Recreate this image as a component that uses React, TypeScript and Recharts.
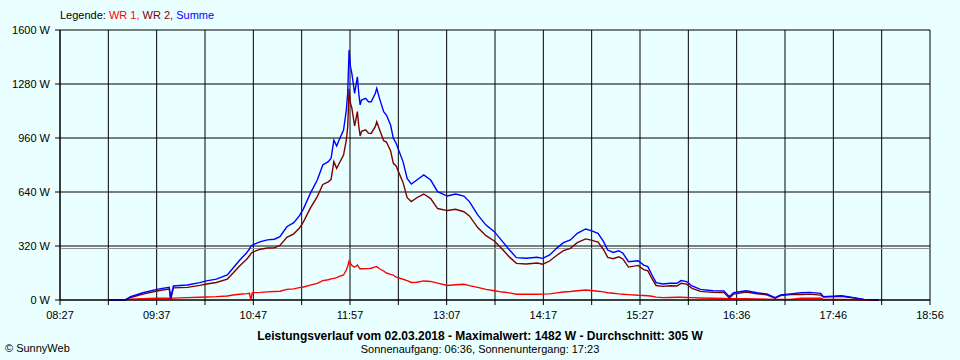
import { LineChart, Line, XAxis, YAxis, CartesianGrid, ReferenceLine } from 'recharts'

// minutes since midnight
const times = [
  542, 554, 558, 567, 577, 581, 586, 587, 589, 599, 608, 613, 620, 628, 632, 637, 642, 644, 645, 646,
  652, 657, 662, 666, 671, 676, 680, 683, 688, 693, 697, 701, 703, 705, 707, 709, 712, 714, 715, 716,
  717, 718, 720, 721, 722, 723, 724, 725, 728, 730, 732, 735, 736, 738, 741, 743, 746, 748, 750, 755,
  758, 761, 765, 770, 775, 780, 787, 793, 799, 803, 809, 815, 821, 827, 832, 837, 844, 852, 856, 861,
  866, 871, 876, 881, 887, 891, 896, 900, 903, 907, 911, 914, 918, 925, 929, 932, 935, 938, 943, 948,
  953, 956, 960, 964, 970, 979, 987, 991, 994, 1003, 1011, 1018, 1024, 1028, 1035, 1043, 1049, 1057, 1059, 1069,
  1072, 1081, 1088, 1099,
]

const wr1 = [
  0, 0, 5, 8, 10, 10, 10, 10, 11, 14, 16, 18, 20, 24, 30, 34, 38, 40, 0, 43,
  45, 48, 50, 52, 63, 66, 73, 77, 88, 98, 115, 120, 125, 128, 133, 140, 148, 178, 200, 231,
  217, 205, 194, 200, 207, 195, 184, 185, 186, 186, 188, 196, 198, 185, 172, 160, 152, 148, 135, 123,
  115, 104, 105, 113, 110, 100, 86, 90, 93, 85, 75, 63, 55, 47, 42, 34, 34, 34, 35, 36,
  42, 47, 50, 55, 59, 56, 52, 48, 43, 40, 36, 34, 32, 28, 27, 25, 22, 17, 14, 15,
  16, 16, 15, 14, 12, 10, 9, 8, 8, 8, 6, 5, 4, 4, 4, 10, 10, 10, 3, 3,
  3, 2, 0, 0,
]

const wr2 = [
  0, 0, 15, 35, 53, 59, 65, 2, 72, 75, 87, 95, 104, 124, 158, 203, 242, 262, 275, 283,
  301, 308, 310, 323, 371, 392, 425, 463, 544, 613, 685, 700, 715, 820, 780, 812, 859, 948, 1025, 1251,
  1166, 1138, 1031, 1074, 1116, 1030, 972, 1000, 1009, 989, 987, 1029, 1056, 1010, 944, 936, 885, 810, 794, 697,
  606, 583, 606, 628, 601, 542, 530, 538, 523, 498, 429, 381, 350, 299, 254, 217, 213, 219, 212, 231,
  264, 293, 306, 340, 362, 355, 343, 298, 253, 245, 256, 243, 195, 205, 180, 173, 126, 86, 81, 84,
  83, 99, 94, 69, 51, 45, 44, 12, 35, 47, 37, 31, 10, 26, 32, 33, 35, 29, 17, 21,
  22, 12, 4, 0,
]

const summe = [
  0, 0, 20, 43, 63, 69, 75, 12, 83, 89, 103, 113, 124, 148, 188, 237, 280, 303, 318, 326,
  346, 356, 360, 375, 434, 458, 498, 540, 632, 711, 800, 820, 840, 948, 913, 952, 1007, 1126, 1225, 1482,
  1383, 1343, 1225, 1274, 1323, 1225, 1156, 1185, 1195, 1175, 1175, 1225, 1254, 1195, 1116, 1096, 1037, 958, 929, 820,
  721, 687, 711, 741, 711, 642, 616, 628, 616, 583, 504, 444, 405, 346, 296, 251, 247, 253, 247, 267,
  306, 340, 356, 395, 421, 411, 395, 346, 296, 282, 292, 277, 227, 233, 207, 198, 148, 103, 95, 99,
  99, 115, 109, 83, 63, 55, 53, 20, 43, 55, 43, 36, 14, 30, 36, 43, 45, 39, 20, 24,
  25, 14, 4, 0,
]

const tickLabels = ['08:27', '09:37', '10:47', '11:57', '13:07', '14:17', '15:27', '16:36', '17:46', '18:56']
const yTicks = [0, 320, 640, 960, 1280, 1600]
const average = 305

const START = 507
const END = 1136
const xTicks = Array.from({ length: 19 }, (_, i) => START + (i * (END - START)) / 18)

const data = times.map((t, i) => ({ t, wr1: wr1[i], wr2: wr2[i], summe: summe[i] }))

const font = '"Liberation Sans", Arial, sans-serif'
const tickStyle = { fontSize: 11, fill: '#000', fontFamily: font }

export default function App() {
  return (
    <div style={{ position: 'absolute', left: 0, top: 0, width: 960, height: 360, background: '#eaffff', fontFamily: font }}>
      <div style={{ position: 'absolute', left: 60, top: 9, fontSize: 11, lineHeight: '13px', whiteSpace: 'nowrap' }}>
        <span style={{ color: '#000' }}>Legende: </span>
        <span style={{ color: '#ff0000' }}>WR 1, </span>
        <span style={{ color: '#800000' }}>WR 2, </span>
        <span style={{ color: '#0000ff' }}>Summe</span>
      </div>
      <LineChart width={960} height={360} data={data} margin={{ top: 30, right: 30, bottom: 0, left: 0 }}>
        <CartesianGrid stroke="#000" strokeWidth={1} />
        <XAxis
          dataKey="t"
          type="number"
          domain={[START, END]}
          ticks={xTicks}
          interval={0}
          tickFormatter={(_v: number, i: number) => (i % 2 === 0 ? tickLabels[i / 2] : '')}
          height={60}
          tickSize={5}
          tickMargin={6}
          stroke="#000"
          tick={tickStyle}
          allowDataOverflow
        />
        <YAxis
          type="number"
          domain={[0, 1600]}
          ticks={yTicks}
          interval={0}
          width={60}
          tickSize={5}
          tickMargin={5}
          stroke="#000"
          tick={tickStyle}
          tickFormatter={(v: number) => `${v} W`}
        />
        <ReferenceLine y={average} stroke="#909090" strokeWidth={1} ifOverflow="extendDomain" />
        <Line dataKey="wr1" stroke="#ff0000" strokeWidth={1.4} dot={false} isAnimationActive={false} type="linear" />
        <Line dataKey="wr2" stroke="#800000" strokeWidth={1.4} dot={false} isAnimationActive={false} type="linear" />
        <Line dataKey="summe" stroke="#0000ff" strokeWidth={1.4} dot={false} isAnimationActive={false} type="linear" />
      </LineChart>
      <div style={{ position: 'absolute', left: 0, width: 960, top: 329, textAlign: 'center', fontSize: 12, fontWeight: 'bold', lineHeight: '14px' }}>
        Leistungsverlauf vom 02.03.2018 - Maximalwert: 1482 W - Durchschnitt: 305 W
      </div>
      <div style={{ position: 'absolute', left: 0, width: 960, top: 342, textAlign: 'center', fontSize: 11, lineHeight: '14px' }}>
        Sonnenaufgang: 06:36, Sonnenuntergang: 17:23
      </div>
      <div style={{ position: 'absolute', left: 5, top: 341, fontSize: 11, lineHeight: '14px' }}>© SunnyWeb</div>
    </div>
  )
}
